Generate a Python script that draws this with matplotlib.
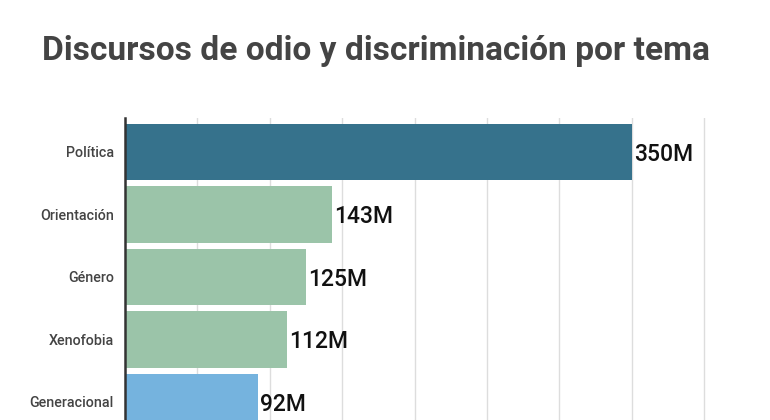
import matplotlib.pyplot as plt

temas = ['Política', 'Orientación', 'Género', 'Xenofobia', 'Generacional']
valores = [350, 143, 125, 112, 92]
etiquetas = ['350M', '143M', '125M', '112M', '92M']
colores = ['#36728C', '#9BC4A9', '#9BC4A9', '#9BC4A9', '#75B3DE']

plt.rcParams['font.family'] = ['Roboto', 'DejaVu Sans']

fig = plt.figure(figsize=(7.7, 4.2), dpi=100)
# eje x: 0 en px 125, 50 unidades ~ 72.4 px ; borde derecho cortado
ax = fig.add_axes([125 / 770, 0, 645 / 770, 302 / 420])

y = list(range(len(temas)))
ax.barh(y, valores, height=0.9, color=colores, zorder=2)

for yi, v, t in zip(y, valores, etiquetas):
    ax.text(v + 1.5, yi + 0.04, t, va='center', ha='left', fontsize=16.5,
            fontweight='medium', color='#111111', zorder=3)

ax.set_xlim(0, 645 / 72.4 * 50)
ax.set_ylim(4.29, -0.544)
ax.set_xticks(range(0, 450, 50))
ax.xaxis.grid(True, color='#dddddd', linewidth=1, zorder=0)
ax.tick_params(axis='x', length=0, labelbottom=False)
ax.set_yticks(y)
ax.set_yticklabels(temas, fontsize=10.3, color='#444444', fontweight='medium')
ax.tick_params(axis='y', length=0, pad=8)
for s in ['top', 'right', 'bottom']:
    ax.spines[s].set_visible(False)
ax.spines['left'].set_color('#333333')
ax.spines['left'].set_linewidth(1.8)
ax.spines['left'].set_zorder(4)

fig.text(42 / 770, 1 - 51 / 420, 'Discursos de odio y discriminación por tema',
         fontsize=24.1, fontweight='bold', color='#444444', va='center', ha='left')

fig.savefig('out.png', dpi=100)
